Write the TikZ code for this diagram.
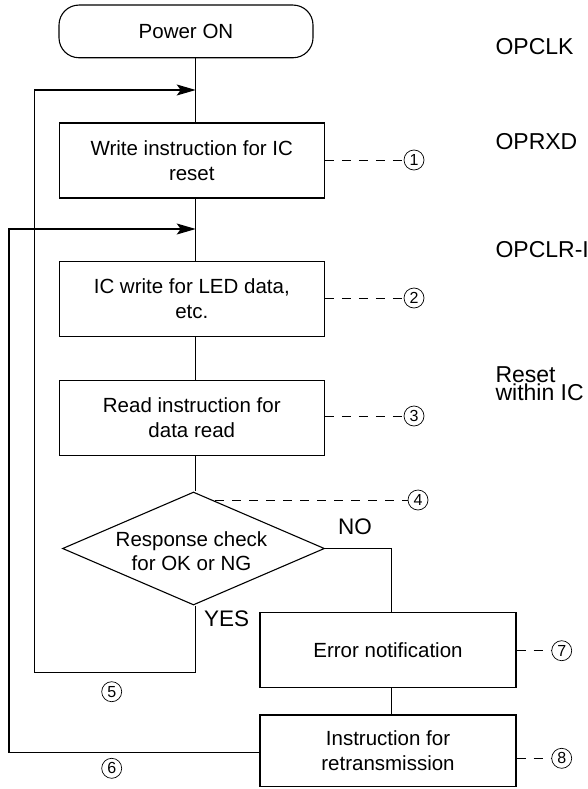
\documentclass[tikz,border=0pt]{standalone}
\usepackage{fontspec}
\setmainfont{Liberation Sans}
\usetikzlibrary{arrows.meta,shapes.geometric}
\begin{document}
\begin{tikzpicture}[x=1pt,y=-1pt,
  line width=1.1pt,
  stepbox/.style={draw,rectangle,inner sep=0pt,align=center,font=\fontsize{20.5}{25}\selectfont},
  lbl/.style={font=\fontsize{22.5}{22.5}\selectfont,inner sep=0pt},
  sidetxt/.style={font=\fontsize{23}{16.5}\selectfont,inner sep=0pt,anchor=west,align=left},
  num/.style={circle,draw,line width=0.7pt,minimum size=20pt,inner sep=0pt,font=\fontsize{16}{16}\selectfont},
  lead/.style={dash pattern=on 9pt off 8pt,line width=0.9pt},
  flow/.style={-{Stealth[length=19pt,width=11pt,inset=4pt]}}
]
\useasboundingbox (0,0) rectangle (587,789);
\coordinate (mx) at (195.7,0);
\coordinate (nx) at (391.7,0);

% main column
\node[stepbox,rounded corners=20pt,minimum width=254pt,minimum height=52.7pt] (pon) at (186,31.4) {Power ON};
\node[stepbox,minimum width=265pt,minimum height=75pt] (b1) at (191.8,160.5) {Write instruction for IC\\reset};
\node[stepbox,minimum width=265pt,minimum height=74.3pt] (b2) at (191.8,298.9) {IC write for LED data,\\etc.};
\node[stepbox,minimum width=265pt,minimum height=74.3pt] (b3) at (191.8,417.9) {Read instruction for\\data read};
\node[draw,diamond,inner sep=0pt,minimum width=262pt,minimum height=113pt] (dia) at (193.5,548.5) {};
\node[align=center,inner sep=0pt,font=\fontsize{20.5}{24}\selectfont] (diatxt) at (191.5,551) {Response check\\for OK or NG};
\node[stepbox,minimum width=256pt,minimum height=74.6pt] (err) at (388,650) {Error notification};
\node[stepbox,minimum width=256pt,minimum height=71.7pt] (ret) at (388,750.8) {Instruction for\\retransmission};

% loop corners
\coordinate (a1) at (195.7,90);
\coordinate (a2) at (195.7,229);
\coordinate (y1) at (195.7,672.3);
\coordinate (y2) at (34.3,672.3);
\coordinate (y3) at (34.3,90);
\coordinate (r2) at (9,752.7);
\coordinate (r3) at (9,229);

% connectors
\draw (pon.south -| mx) -- (b1.north -| mx);
\draw (b1.south -| mx) -- (b2.north -| mx);
\draw (b2.south -| mx) -- (b3.north -| mx);
\draw (b3.south -| mx) -- (dia.north -| mx);
\draw[flow] (dia.south -| mx) -- (y1) -- (y2) -- (y3) -- (a1);
\draw[flow] (ret.west |- r2) -- (r2) -- (r3) -- (a2);
\draw (dia.east) -- (dia.east -| nx) -- (err.north -| nx);
\draw (err.south -| nx) -- (ret.north -| nx);

% labels
\node[lbl] (no) at (355,527) {NO};
\node[lbl] (yes) at (226.7,618.3) {YES};

% circled numbers
\node[num] (n1) at (414,160) {1};
\node[num] (n2) at (414,298) {2};
\node[num] (n3) at (414,416) {3};
\node[num] (n4) at (418,500) {4};
\node[num] (n5) at (111.7,691.7) {5};
\node[num] (n6) at (111.7,768.3) {6};
\node[num] (n7) at (561.7,650.7) {7};
\node[num] (n8) at (561.7,758.3) {8};
\coordinate (d4) at (215,500);

\draw[lead] (b1.east |- n1) -- (n1.west);
\draw[lead] (b2.east |- n2) -- (n2.west);
\draw[lead] (b3.east |- n3) -- (n3.west);
\draw[lead] (d4) -- (n4.west);
\draw[lead] (err.east |- n7) -- (n7.west);
\draw[lead] (ret.east |- n8) -- (n8.west);

% side texts
\begin{scope}
\clip (0,0) rectangle (587,789);
\node[sidetxt] (s1) at (495,46.7) {OPCLK};
\node[sidetxt] (s2) at (495,141.7) {OPRXD};
\node[sidetxt] (s3) at (495,250) {OPCLR-IN};
\node[sidetxt] (s4) at (495,383.3) {Reset\\within IC};
\end{scope}
\end{tikzpicture}
\end{document}
